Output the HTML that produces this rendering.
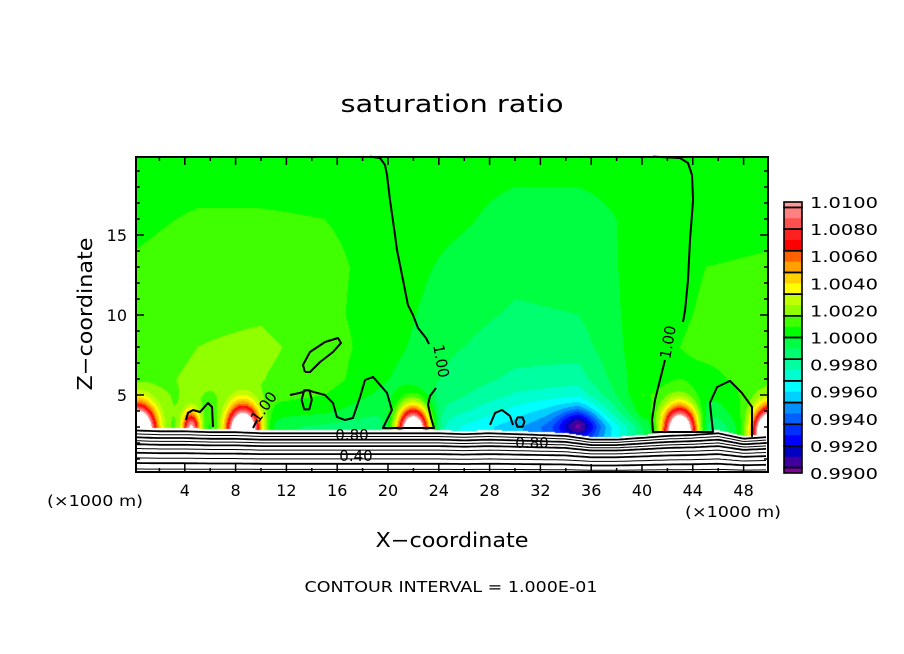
<!DOCTYPE html>
<html><head><meta charset="utf-8"><style>
html,body{margin:0;padding:0;background:#fff;}
#wrap{position:relative;width:904px;height:654px;overflow:hidden;}
canvas{position:absolute;left:136px;top:157px;}
svg{position:absolute;left:0;top:0;}
text{font-family:"DejaVu Sans","Liberation Sans",sans-serif;fill:#000;}
</style></head><body>
<div id="wrap">
<canvas id="field" width="632" height="315"></canvas>
<svg id="svg" width="904" height="654">
<text x="452" y="112" font-size="24" text-anchor="middle" textLength="223" lengthAdjust="spacingAndGlyphs">saturation ratio</text>
<text x="452" y="547" font-size="20" text-anchor="middle" textLength="153" lengthAdjust="spacingAndGlyphs">X−coordinate</text>
<text transform="translate(92,314) rotate(-90)" font-size="20" text-anchor="middle" textLength="153" lengthAdjust="spacingAndGlyphs">Z−coordinate</text>
<text x="47" y="506" font-size="15" textLength="96" lengthAdjust="spacingAndGlyphs">(×1000 m)</text>
<text x="685" y="517" font-size="15" textLength="96" lengthAdjust="spacingAndGlyphs">(×1000 m)</text>
<text x="451" y="592" font-size="15" text-anchor="middle" textLength="293" lengthAdjust="spacingAndGlyphs">CONTOUR INTERVAL = 1.000E-01</text>
</svg>
</div>
<script>
// ---- data ----
const gridX = [0,5,10,15,20,25,30,35,40,45,50];
const gridZ = [3,4,5,6,8,10,13,16,20];
const gridD = [ // (S-1)*1000, rows = gridZ, cols = gridX
 [2.2,0.5,-0.5,-1.0,-1.5,-3.0,-4.5,-7.0,-1.0,-2.5,2.5],
 [2.0,1.2,0.5,0.2,-0.8,-2.0,-3.5,-5.0,0.5,-1.0,2.0],
 [1.5,1.6,1.2,0.8,-0.3,-1.3,-2.5,-3.0,0.8,0.0,1.5],
 [1.2,1.8,1.6,1.2,0.0,-1.0,-1.8,-2.0,0.6,0.6,1.2],
 [1.0,1.6,1.8,1.2,0.3,-0.7,-1.2,-1.2,0.5,1.0,1.0],
 [1.0,1.4,1.5,1.0,0.4,-0.5,-0.9,-0.8,0.4,0.9,1.0],
 [0.9,1.2,1.2,1.0,0.5,-0.2,-0.6,-0.5,0.3,0.8,0.9],
 [0.6,0.9,0.9,0.8,0.5,0.2,-0.3,-0.3,0.2,0.5,0.6],
 [0.3,0.3,0.3,0.3,0.3,0.3,0.3,0.3,0.3,0.3,0.3]
];
const spotX = [0.3,4.5,8.6,22.0,43.0,50.0,35.0];
const spotZ = [2.6,2.8,2.6,2.6,2.6,2.6,3.2];
const spotAmp = [18,10,18,18,18,16,-3];
const spotSx = [1.3,0.7,1.3,1.3,1.4,1.2,1.5];
const spotSz = [1.6,1.1,1.6,1.6,1.6,1.5,0.8];
const terrainX = [0,2,4,6,8,10,12,14,16,18,20,22,24,26,28,30,32,34,36,38,40,42,44,46,48,50];
const terrainZ = [3.0,2.94,2.94,2.88,2.88,2.81,2.81,2.81,2.81,2.81,2.81,2.81,2.81,2.75,2.81,2.75,2.69,2.63,2.38,2.38,2.5,2.63,2.69,2.81,2.44,2.56];
const terrainLevels = [2.6,2.4,2.2,2.0,1.8,1.55,1.3,1.0,0.7,0.35];
const contourA1 = [[18.58,19.9],[19.37,19.81],[19.76,19.38],[19.92,18.75],[20.16,17.19],[20.55,15],[20.71,14.06],[21.02,12.81],[21.34,11.56],[21.57,10.63],[21.97,10],[22.36,9.19],[22.99,8.56],[23.23,8.19]];
const contourA2 = [[23.78,5.44],[23.31,4.94],[23.15,4.38],[23.39,3.56],[23.62,2.94],[19.6,2.94],[20.31,4.06],[19.92,5.13],[18.82,6.13],[18.19,5.94],[17.8,4.88],[17.24,3.56],[16.61,3.44],[15.98,3.63],[15.67,4.5],[15.04,5],[14.41,5.13],[13.62,5.31],[13.07,5.13],[12.28,5]];
const contourA3 = [[9.69,3.44],[9.37,2.94]];
const contourA4 = [[6.22,3],[6.14,4.25],[5.83,4.5],[5.2,3.94],[4.65,4.06],[4.25,3.88],[4.09,3.44]];
const contourOval = [[13.46,6.44],[13.31,6.88],[13.86,7.69],[15.04,8.31],[16.06,8.56],[16.3,8.25],[15.67,7.69],[14.65,7.06],[13.86,6.44],[13.46,6.44]];
const contourSmall = [[13.2,4.7],[13.4,5.3],[13.8,5.3],[14.0,4.7],[13.8,4.1],[13.4,4.1],[13.2,4.7]];
const contourB1 = [[40.87,19.9],[42.99,19.81],[43.62,19.5],[43.94,18.75],[44.02,17.19],[43.78,14.69],[43.62,12.19],[43.39,10.31],[43.23,9.56]];
const contourB2 = [[41.81,7.19],[41.42,5.94],[41.02,4.69],[40.79,3.44],[40.87,2.69],[45.59,2.69],[45.35,4.5],[45.91,5.5],[46.93,5.88],[47.87,5.13],[48.66,4.25],[48.66,2.38]];
const contourHill = [[28.03,3.13],[28.43,3.88],[28.98,4.06],[29.61,3.69],[29.84,3.13]];
const contourRing = [[30.04,3.31],[30.2,3.6],[30.6,3.6],[30.74,3.31],[30.6,3.02],[30.2,3.02],[30.04,3.31]];
const xTicks = [2,4,6,8,10,12,14,16,18,20,22,24,26,28,30,32,34,36,38,40,42,44,46,48];
const xLabels = [4,8,12,16,20,24,28,32,36,40,44,48];
const zTicks = [1,2,3,4,5,6,7,8,9,10,11,12,13,14,15,16,17,18,19];
const zLabels = [5,10,15];
const cbColors = ["#ff9898","#ff8080","#ff5050","#ff2020","#ff0000","#ff6000","#ffa000","#ffd000","#ffff00","#c0ff00","#90ff00","#40ff00","#00ff00","#00ff40","#00ff70","#00ffa0","#00ffd0","#00ffff","#00d0ff","#0090ff","#0060ff","#0030ff","#0000ff","#0000c0","#4000a0","#8000a0"];
const cbLabels = ["1.0100","1.0080","1.0060","1.0040","1.0020","1.0000","0.9980","0.9960","0.9940","0.9920","0.9900"];

// ---- scales ----
const PL=136,PR=768,PT=157,PB=472;
const sx = x => 134 + 12.7*x;
const sz = z => 475 - 16*z;
const ix = px => (px-134)/12.7;
const iz = py => (475-py)/16;
function interp1(xs, ys, x){
  if(x<=xs[0]) return ys[0];
  for(let i=1;i<xs.length;i++){ if(x<=xs[i]){const t=(x-xs[i-1])/(xs[i]-xs[i-1]);return ys[i-1]+t*(ys[i]-ys[i-1]);} }
  return ys[ys.length-1];
}
function idx(arr,v){ let i=0; while(i<arr.length-2 && v>arr[i+1]) i++; let t=(v-arr[i])/(arr[i+1]-arr[i]); t=Math.max(0,Math.min(1,t)); return [i,t]; }
function field(x,z){
  const [i,tx]=idx(gridX,x), [j,tz]=idx(gridZ,z);
  const a=gridD[j][i],b=gridD[j][i+1],c=gridD[j+1][i],d=gridD[j+1][i+1];
  let v=(a*(1-tx)+b*tx)*(1-tz)+(c*(1-tx)+d*tx)*tz;
  for(let k=0;k<spotX.length;k++){
    const dx=(x-spotX[k])/spotSx[k], dz=(z-spotZ[k])/spotSz[k];
    v+=spotAmp[k]*Math.exp(-(dx*dx+dz*dz));
  }
  return v;
}
function hex(c){return [parseInt(c.slice(1,3),16),parseInt(c.slice(3,5),16),parseInt(c.slice(5,7),16)];}
const rgb = cbColors.map(hex);

// ---- field raster ----
const cv=document.getElementById('field'), ctx=cv.getContext('2d');
const W=cv.width,H=cv.height, img=ctx.createImageData(W,H);
for(let py=0;py<H;py++){
  for(let px=0;px<W;px++){
    const x=ix(px+PL+0.5), z=iz(py+PT+0.5);
    let col=[255,255,255];
    if(z>interp1(terrainX,terrainZ,x)){
      const d=field(x,z);
      if(d<=10 && d>=-10){ const k=Math.min(25,Math.floor((10-d)/0.8+0.5)); col=rgb[k]; }
    }
    const o=(py*W+px)*4; img.data[o]=col[0];img.data[o+1]=col[1];img.data[o+2]=col[2];img.data[o+3]=255;
  }
}
ctx.putImageData(img,0,0);

// ---- svg overlay ----
const NS="http://www.w3.org/2000/svg", svg=document.getElementById('svg');
function mk(tag,attrs,parent){const e=document.createElementNS(NS,tag);for(const k in attrs)e.setAttribute(k,attrs[k]);(parent||svg).appendChild(e);return e;}
const gT=mk('g',{});


terrainLevels.forEach((lv,n)=>{
  const pts=[];
  for(let px=PL;px<=PR;px+=3){const x=ix(px);const t=interp1(terrainX,terrainZ,x);pts.push(px+','+sz(lv+(t-2.8)*lv/2.8).toFixed(1));}
  const p=mk('polyline',{points:pts.join(' '),fill:'none',stroke:'#000','stroke-width':(n%2?1:1.8)},gT);
  
  
});
const gC=mk('g',{});


[contourA1,contourA2,contourA3,contourA4,contourOval,contourSmall,contourB1,contourB2,contourHill,contourRing].forEach(c=>{
  const p=mk('polyline',{points:c.map(q=>sx(q[0]).toFixed(1)+','+sz(q[1]).toFixed(1)).join(' '),fill:'none',stroke:'#000','stroke-width':2,'stroke-linejoin':'round'},gC);
  
  
});
function lab(txt,x,y,rot,name){const t=mk('text',{transform:`translate(${x},${y}) rotate(${rot})`,'font-size':15,'text-anchor':'middle'});t.textContent=txt;
  
  }
lab('1.00',436,362,80,'contour-label');
lab('1.00',268,410,-55,'contour-label');
lab('1.00',673,343,-80,'contour-label');
lab('0.80',352,440,0,'contour-label');
lab('0.40',356,461,0,'contour-label');
lab('0.80',532,448,0,'contour-label');

// frame
const fr=mk('rect',{x:PL,y:PT,width:PR-PL,height:PB-PT,fill:'none',stroke:'#000','stroke-width':2});


// ticks
xTicks.forEach(v=>{const L=(v%4===0)?8:4;const X=sx(v);
  const a=mk('line',{x1:X,x2:X,y1:PB,y2:PB-L,stroke:'#000','stroke-width':1.5});
  
  
  const b=mk('line',{x1:X,x2:X,y1:PT,y2:PT+L,stroke:'#000','stroke-width':1.5});
  
  });
zTicks.forEach(v=>{const L=(v%5===0)?8:4;const Y=sz(v);
  const a=mk('line',{x1:PL,x2:PL+L,y1:Y,y2:Y,stroke:'#000','stroke-width':1.5});
  
  
  const b=mk('line',{x1:PR,x2:PR-L,y1:Y,y2:Y,stroke:'#000','stroke-width':1.5});
  
  });
xLabels.forEach(v=>{const t=mk('text',{x:sx(v),y:496,'font-size':16,'text-anchor':'middle'});t.textContent=v;
  
  });
zLabels.forEach(v=>{const t=mk('text',{x:127,y:sz(v)+6,'font-size':16,'text-anchor':'end'});t.textContent=v;
  
  });

// colorbar
const CBX=784,CBW=18,CBT=202,CBB=473,half=(CBB-CBT)/50;
const gB=mk('g',{});


let yy=CBT;
cbColors.forEach((c,k)=>{const h=(k===0||k===cbColors.length-1)?half:2*half;
  const r=mk('rect',{x:CBX,y:yy,width:CBW,height:h+0.3,fill:c},gB);
  
  
  yy+=h;});
for(let b=0;b<=13;b++){
  const y0=b===0?CBT:CBT+half+(b-1)*4*half, y1=b===13?CBB:CBT+half+b*4*half;
  const r=mk('rect',{x:CBX,y:y0,width:CBW,height:y1-y0,fill:'none',stroke:'#000','stroke-width':1.6},gB);
  
  
}
cbLabels.forEach((s,k)=>{const t=mk('text',{x:810,y:CBT+k*(CBB-CBT)/10+6,'font-size':15,textLength:68,lengthAdjust:'spacingAndGlyphs'},gB);t.textContent=s;
  
  });
</script>
</body></html>
